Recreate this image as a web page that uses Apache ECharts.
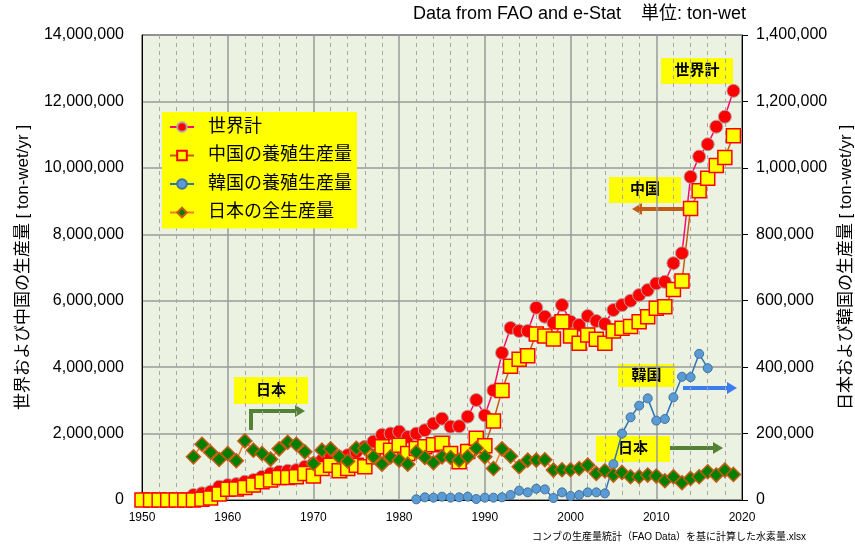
<!DOCTYPE html>
<html>
<head>
<meta charset="utf-8">
<script src="https://cdn.jsdelivr.net/npm/echarts@6/dist/echarts.min.js"></script>
<style>
  html, body { margin: 0; padding: 0; background: #fff; }
  #chart { width: 855px; height: 544px; }
</style>
</head>
<body>
<div id="chart"></div>
<script>
var FONT = "'Liberation Sans', 'Noto Sans CJK JP', sans-serif";

var years = [1950, 1951, 1952, 1953, 1954, 1955, 1956, 1957, 1958, 1959,
    1960, 1961, 1962, 1963, 1964, 1965, 1966, 1967, 1968, 1969,
    1970, 1971, 1972, 1973, 1974, 1975, 1976, 1977, 1978, 1979,
    1980, 1981, 1982, 1983, 1984, 1985, 1986, 1987, 1988, 1989,
    1990, 1991, 1992, 1993, 1994, 1995, 1996, 1997, 1998, 1999,
    2000, 2001, 2002, 2003, 2004, 2005, 2006, 2007, 2008, 2009,
    2010, 2011, 2012, 2013, 2014, 2015, 2016, 2017, 2018, 2019];

// 世界計 (ton-wet/yr, left axis)
var world = [0, 0, 0, 0, 0, 30000, 150000, 200000, 250000, 400000,
    450000, 480000, 550000, 600000, 700000, 800000, 850000, 880000, 900000, 1000000,
    1100000, 1200000, 1280000, 1300000, 1350000, 1450000, 1600000, 1760000, 1960000, 2000000,
    2060000, 1900000, 2000000, 2100000, 2300000, 2450000, 2210000, 2220000, 2510000, 3010000,
    2550000, 3300000, 4430000, 5180000, 5090000, 5090000, 5790000, 5520000, 5330000, 5870000,
    5370000, 5270000, 5540000, 5390000, 5300000, 5720000, 5870000, 6000000, 6170000, 6320000,
    6520000, 6570000, 7130000, 7430000, 9730000, 10340000, 10710000, 11240000, 11540000, 12320000];

// 中国の養殖生産量 (left axis)
var china = [0, 0, 0, 0, 0, 0, 0, 20000, 60000, 180000,
    320000, 330000, 380000, 450000, 550000, 600000, 680000, 680000, 700000, 800000,
    720000, 950000, 1050000, 880000, 950000, 1050000, 1000000, 1300000, 1600000, 1500000,
    1650000, 1400000, 1550000, 1600000, 1660000, 1710000, 1400000, 1150000, 1460000, 1860000,
    1630000, 2380000, 3300000, 4030000, 4240000, 4340000, 5000000, 4940000, 4850000, 5370000,
    4940000, 4720000, 4970000, 4840000, 4720000, 5090000, 5170000, 5220000, 5370000, 5520000,
    5770000, 5820000, 6340000, 6590000, 8780000, 9310000, 9690000, 10070000, 10310000, 10970000];

// 韓国の養殖生産量 (right axis)
var korea = [null, null, null, null, null, null, null, null, null, null,
    null, null, null, null, null, null, null, null, null, null,
    null, null, null, null, null, null, null, null, null, null,
    null, null, 2000, 8000, 7000, 10000, 7000, 8000, 10000, 3000,
    7000, 7000, 8000, 15000, 28000, 23000, 34000, 32000, 6000, 23000,
    12000, 15000, 23000, 23000, 20000, 108000, 200000, 249000, 284000, 306000,
    239000, 244000, 309000, 371000, 370000, 440000, 397000, null, null, null];

// 日本の全生産量 (right axis)
var japan = [null, null, null, null, null, null, 130000, 168000, 144000, 122000,
    140000, 118000, 178000, 150000, 140000, 123000, 154000, 174000, 168000, 145000,
    110000, 150000, 154000, 130000, 117000, 156000, 156000, 130000, 108000, 130000,
    120000, 108000, 144000, 128000, 112000, 130000, 128000, 120000, 130000, 156000,
    130000, 95000, 154000, 132000, 100000, 120000, 120000, 121000, 90000, 91000,
    91000, 95000, 105000, 80000, 88000, 75000, 83000, 70000, 70000, 75000,
    72000, 58000, 70000, 52000, 65000, 70000, 85000, 75000, 90000, 77000];

var leftTicks = [0, 14000000, 2000000];
var rightTicks = [0, 1400000, 200000];
var xTicks = [1950, 2020, 10];

function pairs(vals) {
    return years.map(function (y, i) { return [y, vals[i]]; });
}

function tag(x, y, w, h, text) {
    return {
        type: 'group', z: 100,
        children: [
            { type: 'rect', shape: { x: x, y: y, width: w, height: h }, style: { fill: '#ffff00' } },
            { type: 'text', x: x + w / 2, y: y + h / 2,
              style: { text: text, fill: '#000', font: 'bold 15px ' + FONT,
                       align: 'center', verticalAlign: 'middle', textAlign: 'center', textVerticalAlign: 'middle' } }
        ]
    };
}

function arrow(points, color, dir) {
    var last = points[points.length - 1];
    var head;
    var L = 10, W = 6;
    if (dir === 'right') {
        head = [[last[0], last[1]], [last[0] - L, last[1] - W], [last[0] - L, last[1] + W]];
    } else {
        head = [[last[0], last[1]], [last[0] + L, last[1] - W], [last[0] + L, last[1] + W]];
    }
    var pts = points.slice();
    pts[pts.length - 1] = dir === 'right' ? [last[0] - L + 1, last[1]] : [last[0] + L - 1, last[1]];
    return {
        type: 'group', z: 100,
        children: [
            { type: 'polyline', shape: { points: pts }, style: { stroke: color, lineWidth: 4, fill: null } },
            { type: 'polygon', shape: { points: head }, style: { fill: color } }
        ]
    };
}

var chart = echarts.init(document.getElementById('chart'));
chart.setOption({
    animation: false,
    textStyle: { fontFamily: FONT },
    grid: {
        left: 142, right: 113, top: 35, bottom: 44,
        show: true, backgroundColor: '#ebf2e2', borderColor: '#000', borderWidth: 1,
        outerBoundsMode: 'none'
    },
    legend: {
        orient: 'vertical',
        left: 162, top: 112,
        backgroundColor: '#ffff00',
        padding: [6, 5, 7, 7],
        itemWidth: 24, itemHeight: 12, itemGap: 10.5,
        textStyle: { fontSize: 18, color: '#000', fontFamily: FONT, padding: [0, 0, 0, 9] },
        data: ['世界計', '中国の養殖生産量', '韓国の養殖生産量', '日本の全生産量']
    },
    xAxis: {
        type: 'value',
        min: xTicks[0], max: xTicks[1], interval: xTicks[2],
        axisLine: { show: true, lineStyle: { color: '#000', width: 1 } },
        axisTick: { show: false },
        axisLabel: { fontSize: 12, color: '#000', margin: 12, formatter: function (v) { return String(v); } },
        splitLine: { show: true, lineStyle: { color: '#9a9a9a', width: 1.5 } },
        minorTick: { show: false, splitNumber: 5 },
        minorSplitLine: { show: true, lineStyle: { color: '#a8a8a8', type: [4, 4], width: 1 } }
    },
    yAxis: [{
        type: 'value',
        min: leftTicks[0], max: leftTicks[1], interval: leftTicks[2],
        name: '世界および中国の生産量 [ ton-wet/yr ]',
        nameLocation: 'middle', nameRotate: 90, nameGap: 110,
        nameTextStyle: { fontSize: 17, color: '#000' },
        axisLine: { show: true, lineStyle: { color: '#000' } },
        axisTick: { show: false },
        axisLabel: { fontSize: 16, color: '#000', margin: 18 },
        splitLine: { show: true, lineStyle: { color: '#9a9a9a', width: 1.5 } }
    }, {
        type: 'value',
        min: rightTicks[0], max: rightTicks[1], interval: rightTicks[2],
        name: '日本および韓国の生産量 [ ton-wet/yr ]',
        nameLocation: 'middle', nameRotate: 90, nameGap: 96,
        nameTextStyle: { fontSize: 17, color: '#000' },
        axisLine: { show: true, lineStyle: { color: '#000' } },
        axisTick: { show: true, length: 6, lineStyle: { color: '#000' } },
        axisLabel: { fontSize: 16, color: '#000', margin: 14 },
        splitLine: { show: false }
    }],
    series: [{
        name: '世界計', type: 'line', yAxisIndex: 0,
        data: pairs(world),
        symbol: 'circle', symbolSize: 13,
        lineStyle: { color: '#ff0a6c', width: 1.5 },
        itemStyle: { color: '#ff0000', borderColor: '#b8a0a0', borderWidth: 1 }
    }, {
        name: '中国の養殖生産量', type: 'line', yAxisIndex: 0,
        data: pairs(china),
        symbol: 'rect', symbolSize: 14,
        lineStyle: { color: '#c55a11', width: 1.5 },
        itemStyle: { color: '#ffff00', borderColor: '#ff0000', borderWidth: 1.5 }
    }, {
        name: '韓国の養殖生産量', type: 'line', yAxisIndex: 1,
        data: pairs(korea),
        symbol: 'circle', symbolSize: 9,
        lineStyle: { color: '#2e75b6', width: 1.5 },
        itemStyle: { color: '#5b9bd5', borderColor: '#41719c', borderWidth: 1 }
    }, {
        name: '日本の全生産量', type: 'line', yAxisIndex: 1,
        data: pairs(japan),
        symbol: 'diamond', symbolSize: 14,
        lineStyle: { color: '#ed7d31', width: 1.5 },
        itemStyle: { color: '#008000', borderColor: '#c55a11', borderWidth: 1.5 }
    }],
    graphic: [
        { type: 'text', x: 746, y: 14, z: 100,
          style: { text: 'Data from FAO and e-Stat    単位: ton-wet', fill: '#000', font: '18px ' + FONT,
                   align: 'right', verticalAlign: 'middle', textAlign: 'right', textVerticalAlign: 'middle' } },
        { type: 'text', x: 806, y: 537, z: 100,
          style: { text: 'コンブの生産量統計（FAO Data）を基に計算した水素量.xlsx', fill: '#000', font: '10px ' + FONT,
                   align: 'right', verticalAlign: 'middle', textAlign: 'right', textVerticalAlign: 'middle' } },
        tag(661, 58, 72, 26, '世界計'),
        tag(609, 177, 72, 26, '中国'),
        arrow([[687, 209], [632, 209]], '#c55a11', 'left'),
        tag(618, 364, 57, 23, '韓国'),
        arrow([[683, 388], [737, 388]], '#3b7cf0', 'right'),
        tag(596, 436, 74, 26, '日本'),
        arrow([[670, 448], [723, 448]], '#548235', 'right'),
        tag(234, 377, 74, 27, '日本'),
        arrow([[251, 430], [251, 411], [305, 411]], '#548235', 'right')
    ]
});
</script>
</body>
</html>
